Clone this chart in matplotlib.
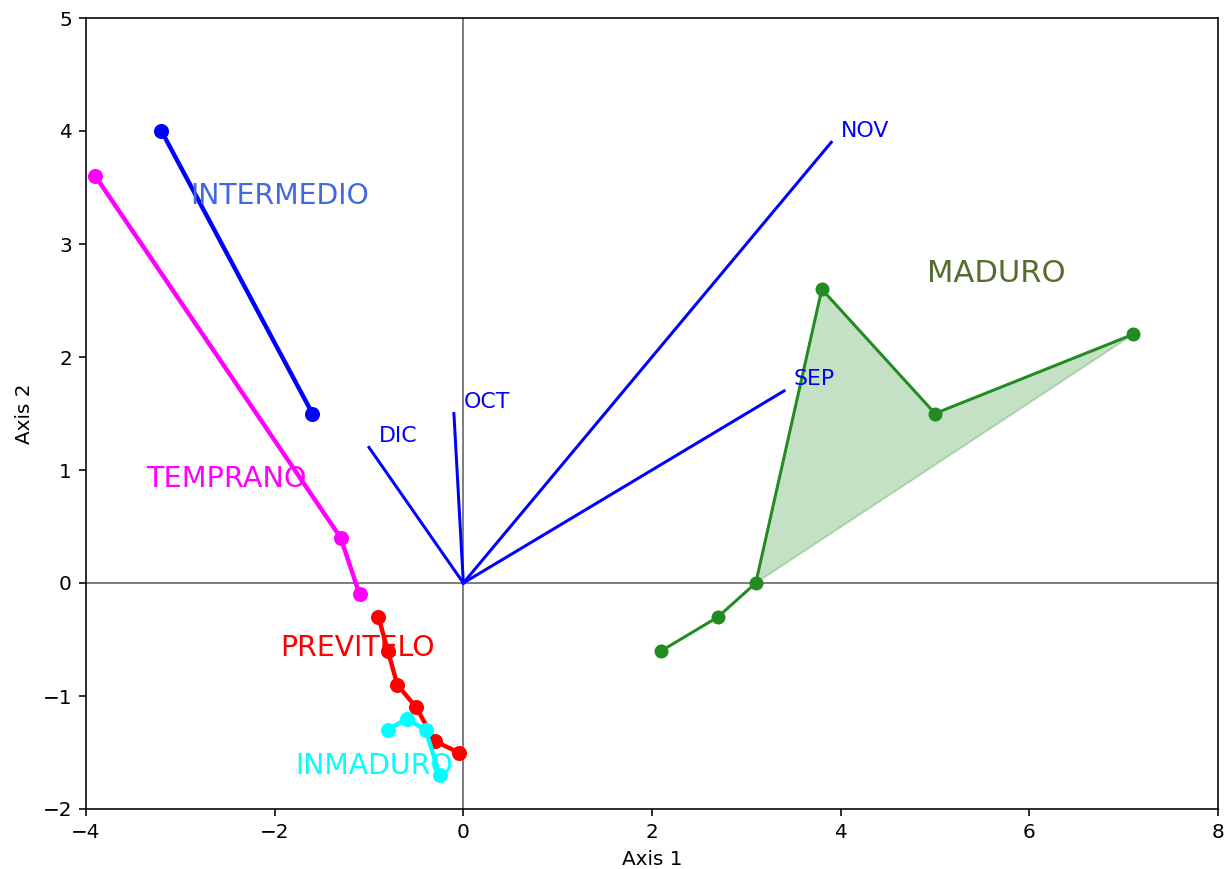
import matplotlib
matplotlib.use("Agg")
import matplotlib.pyplot as plt

# Ripening-stage trajectories on the first two axes
intermedio_x = [-3.2, -1.6]
intermedio_y = [4.0, 1.5]

temprano_x = [-3.9, -1.3, -1.1]
temprano_y = [3.6, 0.4, -0.1]

previtelo_x = [-0.9, -0.8, -0.7, -0.5, -0.3, -0.05]
previtelo_y = [-0.3, -0.6, -0.9, -1.1, -1.4, -1.5]

inmaduro_x = [-0.8, -0.6, -0.4, -0.25]
inmaduro_y = [-1.3, -1.2, -1.3, -1.7]

maduro_x = [2.1, 2.7, 3.1, 3.8, 5.0, 7.1]
maduro_y = [-0.6, -0.3, 0.0, 2.6, 1.5, 2.2]

# Month loading vectors
months = ["NOV", "SEP", "OCT", "DIC"]
month_x = [3.9, 3.4, -0.1, -1.0]
month_y = [3.9, 1.7, 1.5, 1.2]

# Group label text and anchor positions
group_names = ["INTERMEDIO", "TEMPRANO", "PREVITELO", "INMADURO", "MADURO"]
group_label_x = [-2.9, -3.36, -1.94, -1.78, 4.91]
group_label_y = [3.35, 0.85, -0.65, -1.69, 2.66]
group_colors = ["royalblue", "magenta", "red", "cyan", "darkolivegreen"]
group_sizes = [14.2, 14.4, 14.2, 14.2, 15.3]

fig = plt.figure(figsize=(1225 / 144, 869 / 144), dpi=144)
ax = fig.add_axes([86 / 1225, 1 - 809 / 869, (1218 - 86) / 1225, (809 - 18) / 869])

ax.axhline(0, color="gray", lw=1)
ax.axvline(0, color="gray", lw=1)

for name, mx, my in zip(months, month_x, month_y):
    ax.plot([0, mx], [0, my], color="blue", lw=1.5)
    ax.text(mx + 0.1, my + 0.05, name, color="blue", fontsize=11)

ax.plot(intermedio_x, intermedio_y, "o-", color="blue", lw=2.2, ms=6.5)
ax.plot(temprano_x, temprano_y, "o-", color="magenta", lw=2.2, ms=6.5)
ax.plot(previtelo_x, previtelo_y, "o-", color="red", lw=2.2, ms=6.5)
ax.plot(inmaduro_x, inmaduro_y, "o-", color="cyan", lw=2.2, ms=6.5)
ax.plot(maduro_x, maduro_y, "o-", color="forestgreen", lw=1.5, ms=6)
ax.fill(maduro_x[2:], maduro_y[2:], color="forestgreen", alpha=0.26)

for name, lx, ly, c, s in zip(group_names, group_label_x, group_label_y,
                              group_colors, group_sizes):
    ax.text(lx, ly, name, color=c, fontsize=s)

ax.set_xlim(-4, 8)
ax.set_ylim(-2, 5)
ax.set_xlabel("Axis 1")
ax.set_ylabel("Axis 2")

fig.savefig("out.png", dpi=144)
